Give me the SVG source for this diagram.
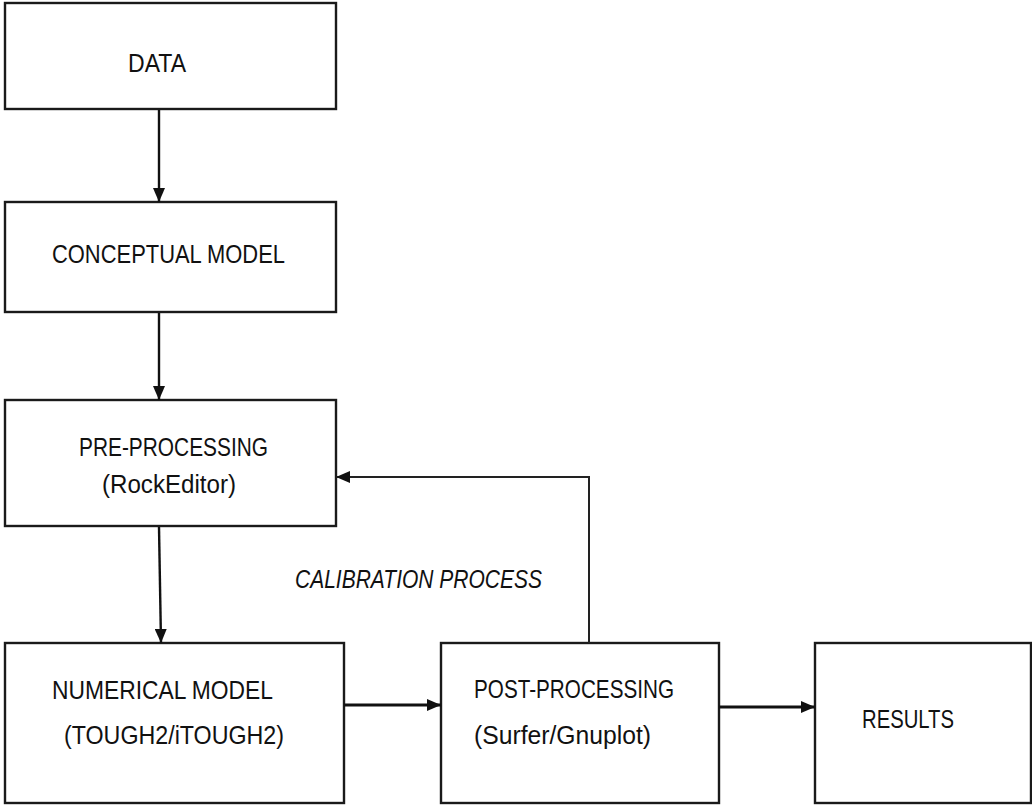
<svg xmlns="http://www.w3.org/2000/svg" width="1032" height="805" viewBox="0 0 1032 805">
<style>
.box{fill:#fff;stroke:#1a1a1a;stroke-width:2.4}
.t{font-family:"Liberation Sans",Arial,sans-serif;font-size:26.5px;fill:#111}
.it{font-style:italic}
.c{stroke:#111;stroke-width:2.4;fill:none}
.c3{stroke:#111;stroke-width:3.2;fill:none}
.c1{stroke:#222;stroke-width:2;fill:none}
</style>
<defs>
<marker id="ah" viewBox="0 0 14 12" refX="14" refY="6" markerWidth="14" markerHeight="12" markerUnits="userSpaceOnUse" orient="auto">
<path d="M0,0 L14,6 L0,12 Z" fill="#111"/>
</marker>
</defs>
<rect width="1032" height="805" fill="#fff"/>
<g id="data"><rect class="box" x="5" y="3" width="331" height="106"/><text class="t" x="128" y="72" textLength="58" lengthAdjust="spacingAndGlyphs">DATA</text></g>
<g id="conceptual"><rect class="box" x="5" y="202" width="331" height="110"/><text class="t" x="52" y="263" textLength="233" lengthAdjust="spacingAndGlyphs">CONCEPTUAL MODEL</text></g>
<g id="preprocessing"><rect class="box" x="5" y="400" width="331" height="126"/><text class="t" x="79" y="456" textLength="189" lengthAdjust="spacingAndGlyphs">PRE-PROCESSING</text><text class="t" x="102" y="493" textLength="134" lengthAdjust="spacingAndGlyphs">(RockEditor)</text></g>
<g id="numerical"><rect class="box" x="5" y="643" width="339" height="160"/><text class="t" x="52" y="699" textLength="221" lengthAdjust="spacingAndGlyphs">NUMERICAL MODEL</text><text class="t" x="64" y="744" textLength="220" lengthAdjust="spacingAndGlyphs">(TOUGH2/iTOUGH2)</text></g>
<g id="postprocessing"><rect class="box" x="441" y="643" width="278" height="160"/><text class="t" x="474" y="698" textLength="200" lengthAdjust="spacingAndGlyphs">POST-PROCESSING</text><text class="t" x="474" y="744" textLength="177" lengthAdjust="spacingAndGlyphs">(Surfer/Gnuplot)</text></g>
<g id="results"><rect class="box" x="815" y="643" width="216" height="160"/><text class="t" x="862" y="728" textLength="92" lengthAdjust="spacingAndGlyphs">RESULTS</text></g>
<g id="calibration-label"><text class="t it" x="295" y="588" textLength="247" lengthAdjust="spacingAndGlyphs">CALIBRATION PROCESS</text></g>
<g id="connectors">
<line class="c" x1="159" y1="110" x2="159" y2="202" marker-end="url(#ah)"/>
<line class="c" x1="159" y1="527" x2="161" y2="643" marker-end="url(#ah)"/>
<line class="c" x1="159" y1="313" x2="159" y2="400" marker-end="url(#ah)"/>
<line class="c3" x1="344" y1="705" x2="441" y2="705" marker-end="url(#ah)"/>
<line class="c3" x1="719" y1="707" x2="815" y2="707" marker-end="url(#ah)"/>
<polyline class="c1" points="589,643 589,477 336,477" marker-end="url(#ah)"/>
</g>
</svg>
